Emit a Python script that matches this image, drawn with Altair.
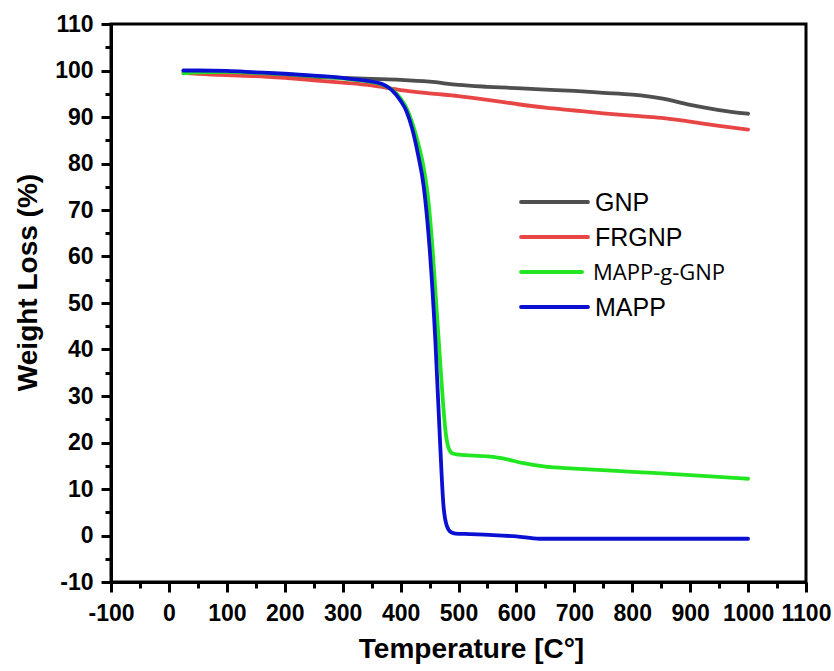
import altair as alt
import pandas as pd

# ---------------- data ----------------
series_names = ["GNP", "FRGNP", "MAPP-g-GNP", "MAPP"]
series_colors = ["#4f4f4f", "#e84545", "#22e622", "#0a0fd2"]

gnp_t = [25, 50, 100, 150, 200, 250, 300, 350, 400, 450, 500, 550, 600, 650, 700, 750, 800, 850, 900, 950, 1000]
gnp_w = [99.9, 99.7, 99.5, 99.2, 98.9, 98.6, 98.4, 98.2, 98.0, 97.6, 96.9, 96.5, 96.2, 95.9, 95.6, 95.2, 94.8, 94.0, 92.6, 91.5, 90.7]

frgnp_t = [25, 50, 100, 150, 200, 250, 300, 350, 400, 450, 500, 550, 600, 650, 700, 750, 800, 850, 900, 950, 1000]
frgnp_w = [99.5, 99.3, 99.0, 98.8, 98.4, 97.9, 97.4, 96.8, 95.8, 95.1, 94.5, 93.7, 92.8, 92.0, 91.4, 90.8, 90.3, 89.8, 89.0, 88.1, 87.3]

mappg_t = [25, 50, 100, 150, 200, 250, 300, 340, 370, 385, 400, 410, 420, 430, 440, 448, 455, 462, 468, 473, 478, 483, 489, 500, 550, 580, 610, 650, 700, 800, 900, 1000]
mappg_w = [99.4, 99.6, 99.7, 99.5, 99.2, 98.8, 98.3, 97.7, 96.9, 95.9, 94.0, 92.0, 88.8, 84.5, 79.0, 72.0, 62.0, 49.0, 38.0, 29.0, 22.0, 18.8, 17.7, 17.4, 17.0, 16.5, 15.6, 14.8, 14.4, 13.7, 13.0, 12.2]

mapp_t = [25, 50, 100, 150, 200, 250, 300, 340, 370, 385, 400, 410, 420, 430, 440, 450, 460, 468, 474, 480, 487, 495, 520, 560, 600, 640, 700, 800, 900, 1000]
mapp_w = [100.0, 100.0, 99.9, 99.6, 99.3, 98.9, 98.4, 97.8, 97.0, 95.8, 93.5, 91.3, 87.5, 82.0, 75.0, 62.0, 42.0, 20.5, 6.5, 2.0, 0.7, 0.4, 0.3, 0.1, -0.2, -0.7, -0.7, -0.7, -0.7, -0.7]

x_major = list(range(-100, 1101, 100))
x_minor = list(range(-50, 1051, 100))
y_major = list(range(-10, 111, 10))
y_minor = list(range(-5, 106, 10))

series_t = [gnp_t, frgnp_t, mappg_t, mapp_t]
series_w = [gnp_w, frgnp_w, mappg_w, mapp_w]

# ---------------- chart ----------------
FONT = "Liberation Sans"
x_scale = alt.Scale(domain=[-100, 1100], nice=False, zero=False)
y_scale = alt.Scale(domain=[-10, 110], nice=False, zero=False)

x_axis = alt.Axis(values=x_major, orient="bottom", title="Temperature [C°]",
                  labelExpr="'' + datum.value", tickSize=10, labelPadding=10,
                  titleBaseline="top", titleY=53, titleX=360,
                  labelFlush=False, labelOverlap=False)
y_axis = alt.Axis(values=y_major, orient="left", title="Weight Loss (%)",
                  labelExpr="'' + datum.value", tickSize=10, labelPadding=8,
                  titlePadding=12, titleY=258, labelOverlap=False)

x_axis_minor = alt.Axis(values=x_minor, orient="bottom", title="", labels=False,
                        domain=False, tickSize=6)
y_axis_minor = alt.Axis(values=y_minor, orient="left", title="", labels=False,
                        domain=False, tickSize=6)

layers = []
# minor-tick carrier layer (invisible)
minor_df = pd.DataFrame({"T": gnp_t, "W": gnp_w})
layers.append(
    alt.Chart(minor_df).mark_line(opacity=0).encode(
        x=alt.X("T:Q", scale=x_scale, axis=x_axis_minor),
        y=alt.Y("W:Q", scale=y_scale, axis=y_axis_minor),
    )
)

for i, (name, ts, ws, col) in enumerate(zip(series_names, series_t, series_w, series_colors)):
    df = pd.DataFrame({"T": ts, "W": ws, "Series": name})
    if i == 0:
        enc = dict(x=alt.X("T:Q", scale=x_scale, axis=x_axis),
                   y=alt.Y("W:Q", scale=y_scale, axis=y_axis))
    else:
        enc = dict(x=alt.X("T:Q", scale=x_scale, axis=None),
                   y=alt.Y("W:Q", scale=y_scale, axis=None))
    layers.append(
        alt.Chart(df).mark_line(color=col, strokeWidth=3.8, interpolate="monotone",
                                strokeCap="round", strokeJoin="round").encode(**enc)
    )

# custom legend (positions in pixels of the plot area)
leg_y = [178, 213, 248, 283]
leg_x2 = [477, 477, 471, 477]
leg_tx = [484, 484, 482, 484]
leg_font = [FONT, FONT, "Open Sans", FONT]
leg_size = [25, 25, 22, 25]
for name, col, ly, lx2, tx, fnt, fs in zip(series_names, series_colors, leg_y, leg_x2, leg_tx, leg_font, leg_size):
    one = pd.DataFrame({"label": [name]})
    layers.append(
        alt.Chart(one).mark_rule(color=col, strokeWidth=3.8, strokeCap="round").encode(
            x=alt.value(410), x2=alt.value(lx2), y=alt.value(ly)
        )
    )
    layers.append(
        alt.Chart(one).mark_text(font=fnt, fontSize=fs, align="left", baseline="middle",
                                 color="black").encode(
            x=alt.value(tx), y=alt.value(ly + 1), text="label:N"
        )
    )

chart = (
    alt.layer(*layers)
    .resolve_axis(x="independent", y="independent")
    .properties(
        width=695, height=558,
        autosize=alt.AutoSizeParams(type="none"),
        padding={"left": 111, "top": 24, "right": 28, "bottom": 89},
        background="white",
    )
    .configure_view(stroke="black", strokeWidth=3)
    .configure_axis(
        grid=False, domainColor="black", domainWidth=3, tickColor="black", tickWidth=3,
        labelFont=FONT, labelFontWeight="bold", labelFontSize=23, labelColor="black",
        titleFont=FONT, titleFontWeight="bold", titleFontSize=28, titleColor="black",
    )
)

chart.save("out.html", embed_options={"renderer": "svg", "actions": False})
